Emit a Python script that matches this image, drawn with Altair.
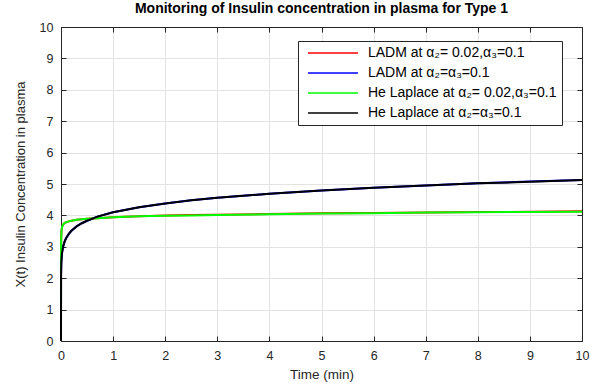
import altair as alt
import pandas as pd

# ---- data ----
time_min = [0, 0.001, 0.005, 0.01, 0.02, 0.04, 0.07, 0.1, 0.15, 0.2, 0.3, 0.4, 0.5,
            0.7, 1, 1.5, 2, 2.5, 3, 4, 5, 6, 7, 8, 9, 10]
ladm_a2_002 = [0, 2.9, 3.35, 3.52, 3.63, 3.71, 3.76, 3.78, 3.81, 3.83, 3.86, 3.88, 3.89,
               3.91, 3.94, 3.97, 4.00, 4.01, 4.02, 4.045, 4.065, 4.08, 4.095, 4.105, 4.115, 4.13]
ladm_a2_a3 = [0, 2.10, 2.45, 2.62, 2.81, 3.00, 3.17, 3.28, 3.41, 3.51, 3.65, 3.75, 3.83,
              3.96, 4.10, 4.26, 4.38, 4.48, 4.56, 4.69, 4.79, 4.88, 4.95, 5.02, 5.08, 5.13]
he_a2_002 = [0, 2.9, 3.35, 3.52, 3.63, 3.71, 3.76, 3.78, 3.81, 3.83, 3.86, 3.88, 3.89,
             3.91, 3.94, 3.97, 3.99, 4.00, 4.01, 4.04, 4.06, 4.07, 4.09, 4.10, 4.11, 4.12]
he_a2_a3 = [0, 2.10, 2.45, 2.62, 2.81, 3.00, 3.17, 3.28, 3.41, 3.51, 3.65, 3.75, 3.83,
            3.96, 4.10, 4.26, 4.38, 4.48, 4.56, 4.69, 4.79, 4.88, 4.95, 5.02, 5.07, 5.13]

series_names = [
    "LADM at \u03b1\u2082= 0.02,\u03b1\u2083=0.1",
    "LADM at \u03b1\u2082=\u03b1\u2083=0.1",
    "He Laplace at \u03b1\u2082= 0.02,\u03b1\u2083=0.1",
    "He Laplace at \u03b1\u2082=\u03b1\u2083=0.1",
]
series_values = [ladm_a2_002, ladm_a2_a3, he_a2_002, he_a2_a3]
series_colors = ["#ff0000", "#0000ff", "#00ff00", "#000000"]
x_ticks = list(range(0, 11))
y_ticks = list(range(0, 11))

rows = []
for k, (name, vals) in enumerate(zip(series_names, series_values)):
    for i, (t, v) in enumerate(zip(time_min, vals)):
        rows.append({"series": name, "t": t, "v": v, "k": k, "i": i})
df = pd.DataFrame(rows)

W, H = 521, 314
FONT = "Liberation Sans"
AX = "#262626"

xscale = alt.Scale(domain=[0, 10], nice=False, zero=False)
yscale = alt.Scale(domain=[0, 10], nice=False, zero=False)

base = alt.Chart(df)

main = base.mark_line(strokeWidth=2).encode(
    x=alt.X("t:Q", scale=xscale,
            axis=alt.Axis(values=x_ticks, title="Time (min)", grid=True, gridColor="#e3e3e3",
                          ticks=False, tickSize=0, labelPadding=8, domainColor=AX,
                          labelColor=AX, labelFont=FONT, labelFontSize=12.5,
                          titleFont=FONT, titleFontSize=13.5, titleFontWeight="normal",
                          titleColor=AX, titleX=W / 2, titleY=33, titleBaseline="middle",
                          labelFlush=False, zindex=0)),
    y=alt.Y("v:Q", scale=yscale,
            axis=alt.Axis(values=y_ticks, title="X(t) Insulin Concentration in plasma",
                          grid=True, gridColor="#e3e3e3", ticks=False, tickSize=0,
                          labelPadding=8, domainColor=AX, labelColor=AX, labelFont=FONT,
                          labelFontSize=12.5, titleFont=FONT, titleFontSize=13,
                          titleFontWeight="normal", titleColor=AX, titleX=-41,
                          titleY=H / 2, titleAngle=270, titleAlign="center",
                          titleBaseline="middle", labelFlush=False, zindex=0)),
    color=alt.Color("series:N", title=None,
                    scale=alt.Scale(domain=series_names, range=series_colors),
                    legend=alt.Legend(orient="none", legendX=237, legendY=14,
                                      symbolType="M-1,0H24", symbolSize=16,
                                      symbolStrokeWidth=1.6, labelFont=FONT,
                                      labelFontSize=14, labelColor="black",
                                      labelLimit=400, labelOffset=51,
                                      strokeColor=AX, fillColor="white", padding=5,
                                      rowPadding=6, cornerRadius=0)),
    order=alt.Order("i:Q"),
    detail="k:N",
)

ticks_in_a = base.mark_line(opacity=0).encode(
    x=alt.X("t:Q", scale=xscale, title=None,
            axis=alt.Axis(values=x_ticks, orient="top", offset=-H, labels=False,
                          grid=False, domain=False, ticks=True, tickSize=5,
                          tickColor=AX)),
    y=alt.Y("v:Q", scale=yscale, title=None,
            axis=alt.Axis(values=y_ticks, orient="right", offset=-W, labels=False,
                          grid=False, domain=False, ticks=True, tickSize=5,
                          tickColor=AX)),
)

ticks_in_b = base.mark_line(opacity=0).encode(
    x=alt.X("t:Q", scale=xscale, title=None,
            axis=alt.Axis(values=x_ticks, orient="bottom", offset=-H, labels=False,
                          grid=False, domain=True, domainColor=AX, ticks=True,
                          tickSize=5, tickColor=AX)),
    y=alt.Y("v:Q", scale=yscale, title=None,
            axis=alt.Axis(values=y_ticks, orient="left", offset=-W, labels=False,
                          grid=False, domain=True, domainColor=AX, ticks=True,
                          tickSize=5, tickColor=AX)),
)

chart = alt.layer(main, ticks_in_a, ticks_in_b).resolve_axis(
    x="independent", y="independent"
).properties(
    width=W, height=H,
    title=alt.TitleParams("Monitoring of Insulin concentration in plasma for Type 1",
                          font=FONT, fontSize=14, fontWeight="bold", color="black",
                          anchor="middle", offset=5),
    autosize=alt.AutoSizeParams(type="none"),
    padding={"left": 61, "top": 27, "right": 8, "bottom": 42},
).configure_view(stroke=None).configure(background="white")

chart.save("out.html", embed_options={"renderer": "svg", "actions": False})
